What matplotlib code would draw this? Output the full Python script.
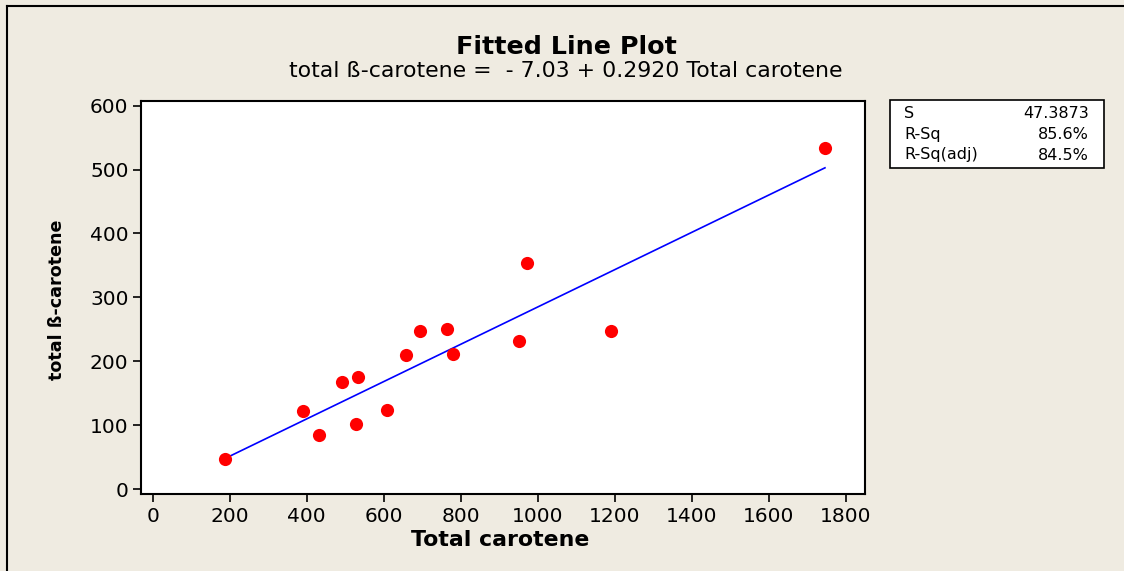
import matplotlib
matplotlib.use("Agg")
import matplotlib.pyplot as plt
from matplotlib.lines import Line2D
import numpy as np

# Data
total_carotene = [188, 391, 432, 492, 532, 527, 608, 659, 695, 765, 780, 951, 972, 1190, 1746]
total_beta_carotene = [47, 122, 85, 168, 175, 101, 124, 210, 248, 250, 212, 231, 354, 248, 534]
intercept = -7.03
slope = 0.2920
x_ticks = [0, 200, 400, 600, 800, 1000, 1200, 1400, 1600, 1800]
y_ticks = [0, 100, 200, 300, 400, 500, 600]
stats_labels = ["S", "R-Sq", "R-Sq(adj)"]
stats_values = ["47.3873", "85.6%", "84.5%"]

bg = "#EFEBE1"
plt.rcParams['font.family'] = ['DejaVu Sans']

fig = plt.figure(figsize=(11.24, 5.71), dpi=100, facecolor=bg)
W, H = 1124, 571
ax = fig.add_axes([141 / W, 1 - 494 / H, (865 - 141) / W, (494 - 101) / H])
ax.set_facecolor("white")

xs = np.array(total_carotene, dtype=float)
xl = np.array([xs.min(), xs.max()])
ax.plot(xl, intercept + slope * xl, color="#0000FF", lw=1.2, zorder=2)
ax.scatter(total_carotene, total_beta_carotene, s=90, color="#FF0000", zorder=3, linewidths=0)

ax.set_xlim(-30.4, 1850)
ax.set_ylim(-7.8, 607.4)
ax.set_xticks(x_ticks)
ax.set_yticks(y_ticks)
ax.tick_params(direction="out", length=6, width=1.2, labelsize=14.5, pad=3, colors="black")
for sp in ax.spines.values():
    sp.set_linewidth(1.5)
    sp.set_color("black")

ax.set_xlabel("Total carotene", fontsize=15.8, fontweight="bold")
ax.set_ylabel("total ß-carotene", fontsize=12.6, fontweight="bold")
ax.xaxis.set_label_coords((500 - 141) / (865 - 141), -(530 - 494) / (494 - 101))
ax.yaxis.set_label_coords(-(141 - 66) / (865 - 141), (494 - 300) / (494 - 101))

fig.text(566 / W, 1 - 47 / H, "Fitted Line Plot", ha="center", va="center",
         fontsize=18.3, fontweight="bold")
fig.text(566 / W, 1 - 71 / H,
         "total ß-carotene =  - 7.03 + 0.2920 Total carotene",
         ha="center", va="center", fontsize=15.8)

# stats box
bx0, by0, bx1, by1 = 890, 100, 1104, 168
fig.add_artist(plt.Rectangle((bx0 / W, 1 - by1 / H), (bx1 - bx0) / W, (by1 - by0) / H,
                             transform=fig.transFigure, facecolor="white",
                             edgecolor="black", lw=1.2))
for i, (lab, val) in enumerate(zip(stats_labels, stats_values)):
    yy = 1 - (114 + i * 20.5) / H
    fig.text(904 / W, yy, lab, ha="left", va="center", fontsize=11.5)
    fig.text(1089 / W, yy, val, ha="right", va="center", fontsize=11.5)

# figure border (top and left)
fig.add_artist(Line2D([7 / W, 1], [1 - 6 / H, 1 - 6 / H], transform=fig.transFigure,
                      color="black", lw=1.5))
fig.add_artist(Line2D([7 / W, 7 / W], [0, 1 - 6 / H], transform=fig.transFigure,
                      color="black", lw=1.5))

fig.savefig("out.png", dpi=100, facecolor=bg)
